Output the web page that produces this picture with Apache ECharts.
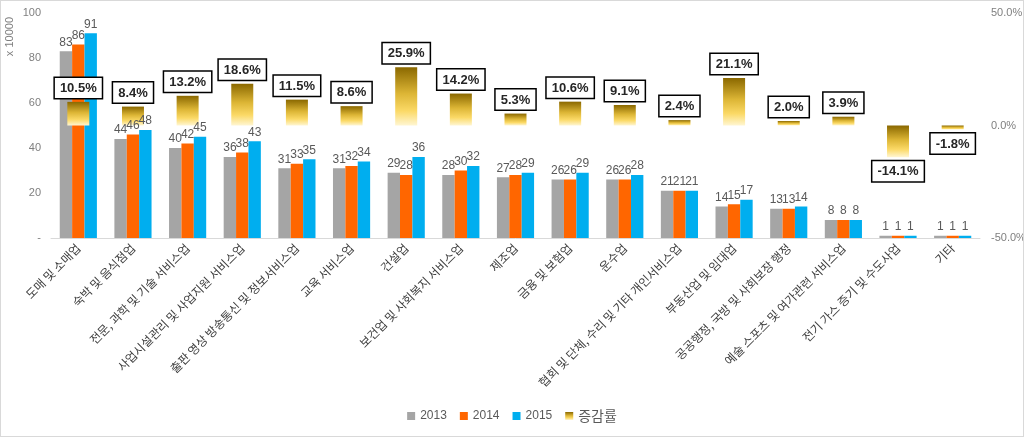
<!DOCTYPE html>
<html>
<head>
<meta charset="utf-8">
<script src="https://cdn.jsdelivr.net/npm/echarts@6/dist/echarts.min.js"></script>
<style>
html,body{margin:0;padding:0;background:#fff;}
#c{width:1024px;height:437px;box-sizing:border-box;border:1px solid #d9d9d9;}
</style>
</head>
<body>
<div id="c"></div>
<script>
const categories = ['도매 및 소매업','숙박 및 음식점업','전문, 과학 및 기술 서비스업','사업시설관리 및 사업지원 서비스업','출판 영상 방송통신 및 정보서비스업','교육 서비스업','건설업','보건업 및 사회복지 서비스업','제조업','금융 및 보험업','운수업','협회 및 단체, 수리 및 기타 개인서비스업','부동산업 및 임대업','공공행정, 국방 및 사회보장 행정','예술 스포츠 및 여가관련 서비스업','전기 가스 증기 및 수도사업','기타'];
const v2013 = [83,44,40,36,31,31,29,28,27,26,26,21,14,13,8,1,1];
const v2014 = [86,46,42,38,33,32,28,30,28,26,26,21,15,13,8,1,1];
const v2015 = [91,48,45,43,35,34,36,32,29,29,28,21,17,14,8,1,1];
const growth = [10.5,8.4,13.2,18.6,11.5,8.6,25.9,14.2,5.3,10.6,9.1,2.4,21.1,2.0,3.9,-14.1,-1.8];
const seriesNames = ['2013','2014','2015','증감률'];

const FONT = '"Noto Sans CJK KR", "Noto Sans", sans-serif';
const NUMFONT = '"Liberation Sans", Arial, sans-serif';
const chart = echarts.init(document.getElementById('c'));
const gold = new echarts.graphic.LinearGradient(0,0,0,1,[
  {offset:0,color:'#8a6800'},
  {offset:0.45,color:'#dcb535'},
  {offset:0.75,color:'#fbd966'},
  {offset:1,color:'#fff6d2'}
]);
const barLabel = {show:true,position:'top',distance:3,color:'#595959',fontSize:12,fontFamily:NUMFONT};
chart.setOption({
  animation:false,
  textStyle:{fontFamily:FONT},
  grid:{left:50,right:43,top:12,bottom:198,containLabel:false,outerBoundsMode:'none'},
  graphic:[{type:'text',left:3,top:16,rotation:Math.PI/2,
    style:{text:'x 10000',fill:'#7f7f7f',font:'11px '+NUMFONT}}],
  legend:{bottom:8,left:'center',itemWidth:8,itemHeight:8,itemGap:13,icon:'rect',
    textStyle:{color:'#595959',fontSize:12,fontFamily:NUMFONT},
    data:[{name:'2013'},{name:'2014'},{name:'2015'},{name:'증감률',textStyle:{fontSize:14,fontFamily:FONT}}]},
  xAxis:[{type:'category',data:categories,
    axisLine:{lineStyle:{color:'#d9d9d9'}},axisTick:{show:false},
    axisLabel:{interval:0,rotate:45,color:'#404040',fontSize:12,margin:8,fontFamily:FONT}},
    {type:'category',data:categories,show:false}],
  yAxis:[{type:'value',min:0,max:100,interval:20,
    axisLine:{show:false},axisTick:{show:false},splitLine:{show:false},
    axisLabel:{color:'#7f7f7f',fontSize:11,margin:10,fontFamily:NUMFONT,formatter:v=>v===0?'-':v}},
    {type:'value',min:-50,max:50,interval:50,
    axisLine:{show:false},axisTick:{show:false},splitLine:{show:false},
    axisLabel:{color:'#7f7f7f',fontSize:11,margin:11,fontFamily:NUMFONT,formatter:v=>v.toFixed(1)+'%'}}],
  series:[
    {name:seriesNames[0],type:'bar',data:v2013,barGap:'0%',barCategoryGap:'32%',itemStyle:{color:'#a5a5a5'},label:barLabel},
    {name:seriesNames[1],type:'bar',data:v2014,barGap:'0%',barCategoryGap:'32%',itemStyle:{color:'#ff6600'},label:barLabel},
    {name:seriesNames[2],type:'bar',data:v2015,barGap:'0%',barCategoryGap:'32%',itemStyle:{color:'#00aeef'},label:barLabel},
    {name:seriesNames[3],type:'bar',xAxisIndex:1,yAxisIndex:1,barWidth:22,
      itemStyle:{color:gold},
      data:growth.map(v=>({value:v,label:{position:v>=0?'top':'bottom'}})),
      label:{show:true,distance:4,formatter:p=>p.value.toFixed(1)+'%',
        color:'#262626',fontWeight:'bold',fontSize:13,fontFamily:NUMFONT,
        backgroundColor:'#fff',borderColor:'#000',borderWidth:1.5,padding:[4,5,3,5]}}
  ]
});
</script>
</body>
</html>
